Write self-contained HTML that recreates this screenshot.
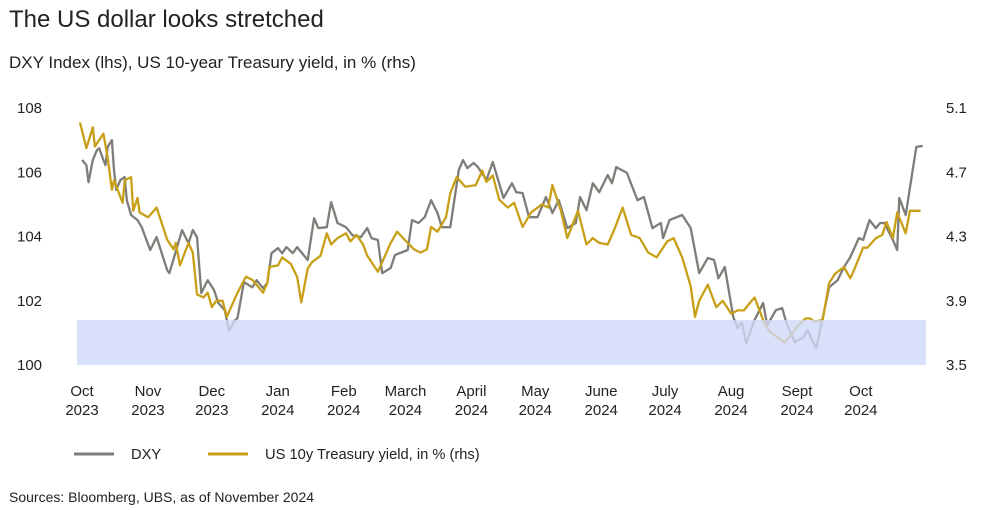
<!DOCTYPE html>
<html><head><meta charset="utf-8"><style>
body{margin:0;background:#fff;font-family:"Liberation Sans",sans-serif;}
svg text{font-family:"Liberation Sans",sans-serif;fill:#222;}
</style></head><body>
<svg id="chart" width="989" height="513" viewBox="0 0 989 513" xmlns="http://www.w3.org/2000/svg">
<text x="9" y="27" font-size="24">The US dollar looks stretched</text>
<text x="9" y="68" font-size="17">DXY Index (lhs), US 10-year Treasury yield, in % (rhs)</text>
<g id="axes"></g>
<g id="series"></g>
<rect id="band" fill="rgba(208,216,248,0.8)"></rect>
<g>
<line x1="74" y1="454" x2="114" y2="454" stroke="#7f7d78" stroke-width="3"/>
<text x="131" y="459" font-size="14.7">DXY</text>
<line x1="208" y1="454" x2="248" y2="454" stroke="#c8a018" stroke-width="3"/>
<text x="265" y="459" font-size="14.7">US 10y Treasury yield, in % (rhs)</text>
</g>
<text x="9" y="502" font-size="14">Sources: Bloomberg, UBS, as of November 2024</text>
</svg>
<script>
const dxyDays=[1,3,4,6,8,9,11,12,13,15,16,17,19,21,22,24,27,29,33,36,41,42,48,51,53,55,57,60,63,65,68,70,73,74,77,81,83,86,88,90,93,95,97,100,102,107,110,112,116,118,121,125,128,132,135,137,140,142,146,148,154,156,159,162,165,168,170,174,178,180,182,185,187,191,194,199,203,205,208,211,215,219,222,225,229,233,235,238,241,244,248,250,252,257,262,265,269,273,274,277,283,287,291,295,298,300,303,307,309,311,313,317,321,323,327,330,332,336,340,342,344,346,349,352,356,359,362,366,368,371,374,376,378,382,384,385,388,393,396];
const dxyValues=[106.38,106.22,105.69,106.38,106.69,106.75,106.38,106.22,106.79,107.0,106.07,105.45,105.76,105.85,105.13,104.67,104.51,104.29,103.58,103.98,102.95,102.86,104.2,103.79,104.2,103.98,102.24,102.64,102.33,101.93,101.71,101.08,101.4,101.46,102.58,102.42,102.64,102.39,102.55,103.48,103.64,103.48,103.67,103.48,103.67,103.27,104.57,104.26,104.29,105.07,104.42,104.29,104.04,103.98,104.26,103.95,103.89,102.86,103.02,103.42,103.58,104.51,104.42,104.6,105.13,104.73,104.29,104.29,106.07,106.38,106.13,106.29,106.16,105.76,106.32,105.2,105.66,105.38,105.35,104.6,104.6,105.23,104.73,105.13,104.26,104.42,105.23,104.82,105.66,105.38,105.91,105.66,106.16,105.98,105.13,105.23,104.26,104.42,103.95,104.51,104.67,104.26,102.86,103.33,103.27,102.7,103.05,101.49,101.15,101.33,100.68,101.4,101.93,101.24,101.71,101.77,101.3,100.71,100.87,101.08,100.77,100.52,101.46,102.42,102.64,103.05,103.36,103.95,103.89,104.51,104.26,104.42,104.42,103.89,103.58,105.2,104.67,106.79,106.82];
const yieldDays=[0,3,6,7,11,13,15,16,20,21,24,25,27,28,32,36,39,41,44,45,47,51,53,55,58,60,62,64,67,69,72,74,78,81,86,88,89,93,95,99,102,104,107,109,113,116,118,121,125,127,130,133,135,140,146,149,154,157,160,163,165,168,172,174,177,181,186,189,191,194,197,201,204,208,212,217,220,222,226,229,234,238,241,244,248,251,255,259,263,267,271,276,279,283,287,289,291,295,299,302,306,309,312,315,317,321,324,328,331,335,337,341,343,345,349,352,355,359,362,364,368,370,374,377,379,382,384,388,390,395];
const yieldValues=[5.01,4.85,4.98,4.86,4.94,4.79,4.59,4.65,4.51,4.65,4.67,4.46,4.54,4.45,4.42,4.48,4.36,4.28,4.22,4.26,4.12,4.26,4.2,3.94,3.92,3.95,3.86,3.9,3.9,3.8,3.89,3.95,4.05,4.03,3.95,4.01,4.11,4.12,4.17,4.13,4.05,3.89,4.1,4.14,4.18,4.32,4.25,4.29,4.32,4.27,4.31,4.25,4.18,4.08,4.26,4.33,4.26,4.22,4.2,4.22,4.36,4.33,4.42,4.57,4.67,4.61,4.62,4.71,4.64,4.68,4.53,4.48,4.51,4.36,4.45,4.5,4.48,4.62,4.46,4.29,4.46,4.25,4.29,4.26,4.25,4.34,4.48,4.31,4.29,4.2,4.17,4.27,4.29,4.17,3.99,3.8,3.9,4.0,3.86,3.9,3.82,3.84,3.84,3.89,3.92,3.78,3.71,3.67,3.64,3.7,3.74,3.79,3.79,3.77,3.78,4.01,4.07,4.11,4.04,4.1,4.23,4.23,4.29,4.31,4.39,4.29,4.45,4.32,4.46,4.46];
const leftTicks=[100,102,104,106,108];
const rightTicks=[3.5,3.9,4.3,4.7,5.1];
const monthLabels=[["Oct","2023"],["Nov","2023"],["Dec","2023"],["Jan","2024"],["Feb","2024"],["March","2024"],["April","2024"],["May","2024"],["June","2024"],["July","2024"],["Aug","2024"],["Sept","2024"],["Oct","2024"]];
const monthStartDays=[0,31,61,92,123,152,183,213,244,274,305,336,366];
const bandRange=[100,101.4];

const NS="http://www.w3.org/2000/svg";
const x=d=>80+d*2.128;
const yL=v=>365-(v-100)*(257/8);
const yR=v=>365-(v-3.5)*(257/1.6);
const axes=document.getElementById('axes');
const series=document.getElementById('series');
function mk(tag,attrs,parent){const e=document.createElementNS(NS,tag);for(const k in attrs)e.setAttribute(k,attrs[k]);parent.appendChild(e);return e;}
leftTicks.forEach(v=>{const t=mk('text',{x:17,y:yL(v)+5,'font-size':15},axes);t.textContent=v;

});
rightTicks.forEach(v=>{const t=mk('text',{x:946,y:yR(v)+5,'font-size':15},axes);t.textContent=v.toFixed(1);

});
monthLabels.forEach((m,i)=>{const cx=x(monthStartDays[i])+2;
const t=mk('text',{x:cx,y:396,'font-size':15,'text-anchor':'middle'},axes);t.textContent=m[0];


const t2=mk('text',{x:cx,y:415,'font-size':15,'text-anchor':'middle'},axes);t2.textContent=m[1];

});
const p1=mk('polyline',{points:dxyDays.map((d,i)=>x(d).toFixed(1)+','+yL(dxyValues[i]).toFixed(1)).join(' '),fill:'none',stroke:'#7f7d78','stroke-width':2.3,'stroke-linejoin':'round'},series);


const p2=mk('polyline',{points:yieldDays.map((d,i)=>x(d).toFixed(1)+','+yR(yieldValues[i]).toFixed(1)).join(' '),fill:'none',stroke:'#c8a018','stroke-width':2.3,'stroke-linejoin':'round'},series);


const b=document.getElementById('band');
b.setAttribute('x',77);b.setAttribute('width',849);
b.setAttribute('y',yL(bandRange[1]));b.setAttribute('height',yL(bandRange[0])-yL(bandRange[1]));
</script>
</body></html>
